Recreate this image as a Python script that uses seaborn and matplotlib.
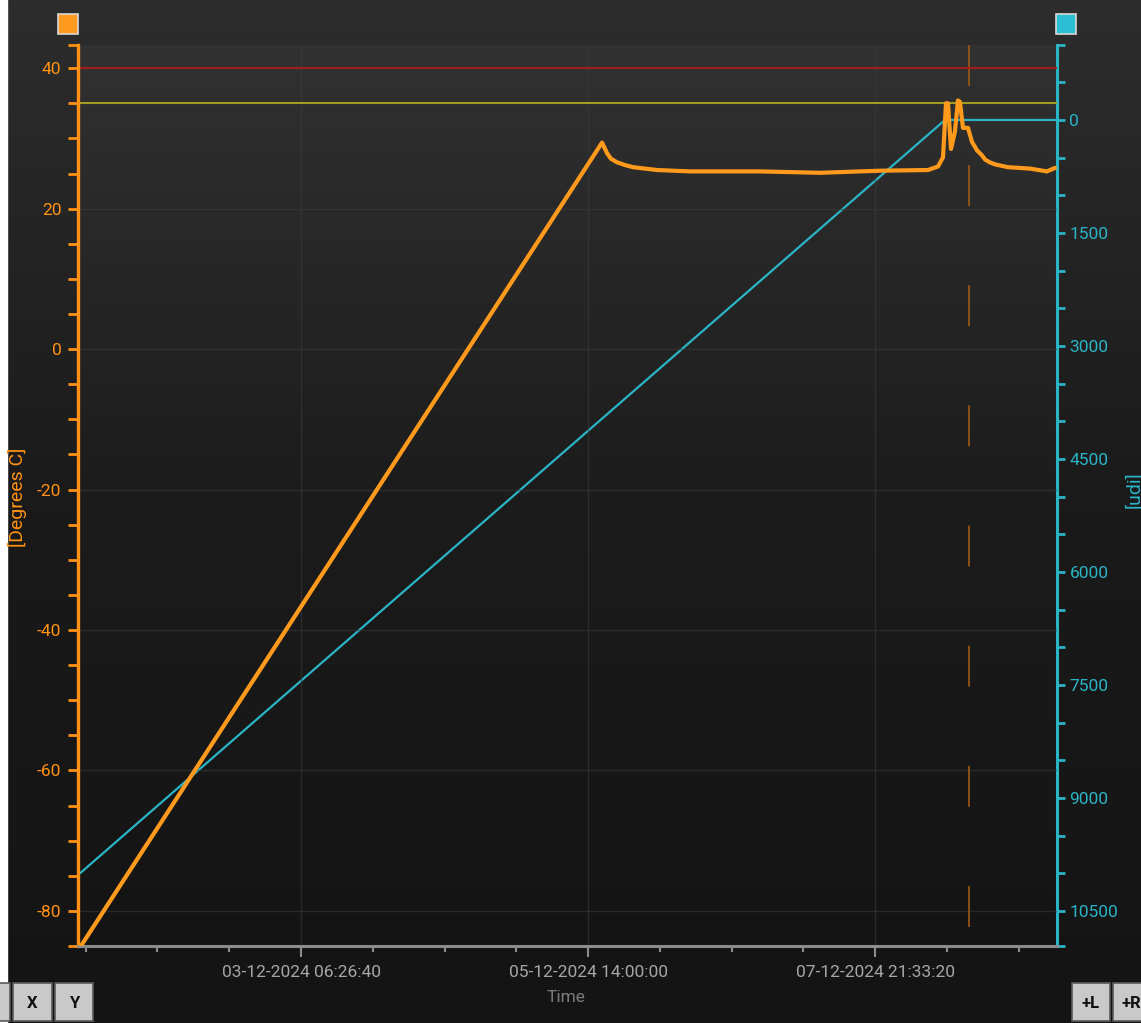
import numpy as np
import pandas as pd
import matplotlib
matplotlib.use("Agg")
import matplotlib.pyplot as plt
import matplotlib.dates as mdates
import seaborn as sns
from matplotlib.patches import Rectangle
from matplotlib.ticker import FixedLocator, NullFormatter, FixedFormatter
from matplotlib.colors import LinearSegmentedColormap

# ---------------- data ----------------
temp_time = [
    "2024-12-01 11:40:00", "2024-12-05 16:43:00", "2024-12-05 17:06:00", "2024-12-05 17:41:00",
    "2024-12-05 18:27:00", "2024-12-05 19:37:00", "2024-12-05 21:10:00", "2024-12-05 22:43:00",
    "2024-12-06 01:02:00", "2024-12-06 03:21:00", "2024-12-06 09:45:00", "2024-12-06 23:18:00",
    "2024-12-07 10:55:00", "2024-12-07 22:31:00", "2024-12-08 07:49:00", "2024-12-08 09:45:00",
    "2024-12-08 10:43:00", "2024-12-08 11:18:00", "2024-12-08 11:41:00", "2024-12-08 12:16:00",
    "2024-12-08 13:02:00", "2024-12-08 13:37:00", "2024-12-08 14:00:00", "2024-12-08 14:35:00",
    "2024-12-08 15:33:00", "2024-12-08 16:20:00", "2024-12-08 17:18:00", "2024-12-08 18:15:00",
    "2024-12-08 18:51:00", "2024-12-08 19:45:00", "2024-12-08 20:47:00", "2024-12-08 23:18:00",
    "2024-12-09 03:33:00", "2024-12-09 06:51:00", "2024-12-09 08:24:00",
]
temp_vals = [
    -85.2, 29.4, 28.8, 27.9,
    27.1, 26.6, 26.2, 25.9,
    25.7, 25.5, 25.3, 25.3,
    25.1, 25.4, 25.5, 26.0,
    27.3, 35.0, 35.0, 28.5,
    31.0, 35.4, 35.2, 31.5,
    31.5, 29.5, 28.3, 27.6,
    27.0, 26.6, 26.3, 25.9,
    25.7, 25.3, 25.8,
]
udi_time = ["2024-12-01 11:40:00", "2024-12-08 11:06:00", "2024-12-09 08:47:00"]
udi_vals = [10000, 0, 0]

thresholds = [40, 35]
cursor_time = "2024-12-08 15:45:00"

x_major_ticks = ["2024-12-03 06:26:40", "2024-12-05 14:00:00", "2024-12-07 21:33:20"]
x_limits = ["2024-12-01 11:16:40", "2024-12-09 08:47:06"]
left_major = [-80, -60, -40, -20, 0, 20, 40]
right_major = [0, 1500, 3000, 4500, 6000, 7500, 9000, 10500]
left_lim = (-85.0, 43.3)
right_lim = (10965, -995)

# ---------------- style ----------------
ORANGE = "#ff9214"
LINE_OR = "#ff9a1c"
CYAN = "#2ab4c6"
GREY = "#8c8c8c"
TXT_GREY = "#a6a6a6"
FONT = ["Roboto", "DejaVu Sans"]

sns.set_style("dark")
plt.rcParams["font.family"] = FONT
plt.rcParams["lines.scale_dashes"] = False

W, H = 1141, 1023
fig = plt.figure(figsize=(W / 100, H / 100), dpi=100)

def fx(px):
    return px / W

def fy(py):
    return 1 - py / H

# figure background gradient
bg = fig.add_axes([0, 0, 1, 1], zorder=-20)
cm_fig = LinearSegmentedColormap.from_list("g", ["#141414", "#1a1a1a", "#2d2d2d"])
bg.imshow(np.linspace(0, 1, 256).reshape(-1, 1), aspect="auto", cmap=cm_fig,
          origin="lower", extent=[0, 1, 0, 1])
bg.set_xlim(0, 1); bg.set_ylim(0, 1); bg.axis("off")
bg.add_patch(Rectangle((0, 0), fx(7), 1, color="white", zorder=5))

L, R, T, B = 78, 1057, 45, 946
pos = [fx(L), fy(B), fx(R) - fx(L), fy(T) - fy(B)]

# plot area gradient
pbg = fig.add_axes(pos, zorder=-10)
cm_plot = LinearSegmentedColormap.from_list("p", ["#141414", "#1c1c1c", "#313131"])
pbg.imshow(np.linspace(0, 1, 256).reshape(-1, 1), aspect="auto", cmap=cm_plot,
           origin="lower", extent=[0, 1, 0, 1])
pbg.axis("off")

ax2 = fig.add_axes(pos, zorder=1)
ax = fig.add_axes(pos, zorder=2, sharex=ax2)
for a in (ax, ax2):
    a.patch.set_visible(False)

df_t = pd.DataFrame({"time": pd.to_datetime(temp_time), "temp": temp_vals})
df_u = pd.DataFrame({"time": pd.to_datetime(udi_time), "udi": udi_vals})

sns.lineplot(data=df_u, x="time", y="udi", ax=ax2, color=CYAN, lw=1.6, zorder=3)
for val, col in zip(thresholds, ["#a41c1c", "#a39d1f"]):
    ax.axhline(val, color=col, lw=1.5, zorder=2)
sns.lineplot(data=df_t, x="time", y="temp", ax=ax, color=LINE_OR, lw=3.0, zorder=4)
for ln in ax.get_lines():
    ln.set_solid_joinstyle("round")
ax.axvline(pd.Timestamp(cursor_time), ymin=1, ymax=0, color="#9e5a14", lw=1.2,
           linestyle=(0, (29.5, 57.0)), zorder=1)

xl = [mdates.date2num(pd.Timestamp(s)) for s in x_limits]
ax.set_xlim(*xl)
ax.set_ylim(*left_lim)
ax2.set_ylim(*right_lim)

# x axis ticks
t0 = pd.Timestamp(x_major_ticks[0])
minor_x = [mdates.date2num(t0 + pd.Timedelta(seconds=50000 * k)) for k in range(-3, 11)]
ax.xaxis.set_major_locator(FixedLocator([mdates.date2num(pd.Timestamp(s)) for s in x_major_ticks]))
ax.xaxis.set_major_formatter(FixedFormatter([pd.Timestamp(s).strftime("%d-%m-%Y %H:%M:%S") for s in x_major_ticks]))
ax.xaxis.set_minor_locator(FixedLocator(minor_x))
ax.tick_params(axis="x", which="major", direction="out", length=8, width=1.5,
               color=GREY, labelcolor=TXT_GREY, labelsize=12.5, pad=6, bottom=True)
ax.tick_params(axis="x", which="minor", direction="out", length=4, width=1.5,
               color=GREY, bottom=True)
ax2.tick_params(axis="x", which="both", bottom=False, labelbottom=False)

# left axis
ax.yaxis.set_major_locator(FixedLocator(left_major))
ax.yaxis.set_major_formatter(FixedFormatter([str(v) for v in left_major]))
ax.yaxis.set_minor_locator(FixedLocator(list(range(-85, 45, 5)) + [left_lim[1]]))
ax.yaxis.set_minor_formatter(NullFormatter())
ax.tick_params(axis="y", which="both", direction="out", length=7, width=2.0,
               color=ORANGE, left=True, right=False)
ax.tick_params(axis="y", which="major", labelcolor=ORANGE, labelsize=12.5, pad=5)

# right axis
ax2.yaxis.tick_right()
ax2.yaxis.set_major_locator(FixedLocator(right_major))
ax2.yaxis.set_major_formatter(FixedFormatter([str(v) for v in right_major]))
ax2.yaxis.set_minor_locator(FixedLocator(list(range(-500, 11000, 500)) + [right_lim[0], right_lim[1]]))
ax2.yaxis.set_minor_formatter(NullFormatter())
ax2.tick_params(axis="y", which="both", direction="out", length=6, width=2.0,
                color=CYAN, right=True, left=False)
ax2.tick_params(axis="y", which="major", labelcolor=CYAN, labelsize=12.5, pad=3)

# grid
ax.grid(True, which="major", axis="both", color="#3c3c3c", lw=1.0, alpha=0.55)
ax2.grid(False)

# spines
for s in ["top", "right"]:
    ax.spines[s].set_visible(False)
ax.spines["left"].set_color(ORANGE); ax.spines["left"].set_linewidth(2.4)
ax.spines["bottom"].set_color(GREY); ax.spines["bottom"].set_linewidth(2.2)
for s in ["top", "left", "bottom"]:
    ax2.spines[s].set_visible(False)
ax2.spines["right"].set_color(CYAN); ax2.spines["right"].set_linewidth(2.2)

ax.set_xlabel(""); ax.set_ylabel(""); ax2.set_xlabel(""); ax2.set_ylabel("")

# axis titles
fig.text(fx(17), fy(497), "[Degrees C]", rotation=90, color=ORANGE, fontsize=14,
         ha="center", va="center")
fig.text(fx(1134), fy(490), "[udi]", rotation=90, color=CYAN, fontsize=14,
         ha="center", va="center")
fig.text(fx(566), fy(998), "Time", color="#7c7c7c", fontsize=12.5, ha="center", va="center")

# legend squares
for x0, col in [(58, "#ff9a1f"), (1056, "#2cbfd4")]:
    fig.patches.append(Rectangle((fx(x0), fy(34)), fx(20), 20 / H, transform=fig.transFigure,
                                 facecolor=col, edgecolor="#d8d8d8", lw=1.2, zorder=10))

# buttons
for x0, x1, label in [(-5, 10, ""), (13, 52, "X"), (55, 93, "Y"), (1072, 1110, "+L"), (1113, 1150, "+R")]:
    fig.patches.append(Rectangle((fx(x0), fy(1021)), fx(x1 - x0), 38 / H, transform=fig.transFigure,
                                 facecolor="#c9c9c9", edgecolor="#5a5a5a", lw=1.2, zorder=10))
    if label:
        fig.text(fx((x0 + x1) / 2), fy(1003), label, color="#111111", fontsize=12,
                 fontweight="bold", ha="center", va="center", zorder=11)

fig.savefig("out.png", dpi=100, facecolor="#1a1a1a")
